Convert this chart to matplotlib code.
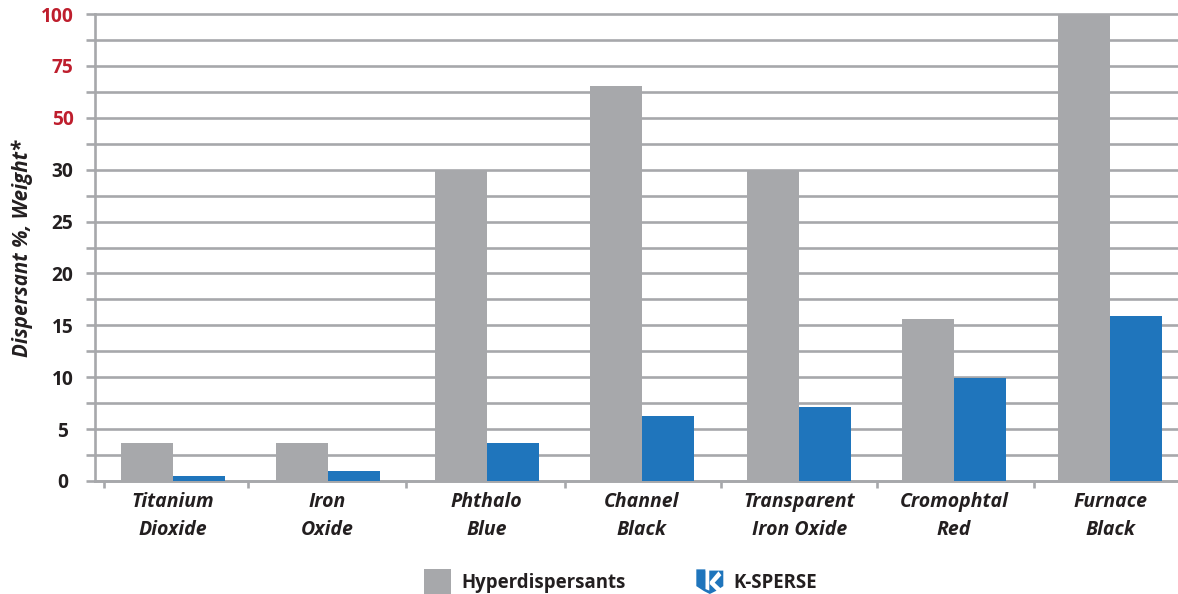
import numpy as np
import matplotlib
matplotlib.use("Agg")
import matplotlib.pyplot as plt
from matplotlib.patches import Patch, Polygon

pigmentos = ["Titanium\nDioxide", "Iron\nOxide", "Phthalo\nBlue", "Channel\nBlack",
             "Transparent\nIron Oxide", "Cromophtal\nRed", "Furnace\nBlack"]
hyper = [3.7, 3.7, 30, 65.3, 30, 15.6, 100]
ksperse = [0.5, 1, 3.7, 6.3, 7.1, 9.9, 15.9]
y_ticks = [0, 5, 10, 15, 20, 25, 30, 50, 75, 100]
y_minor = [2.5, 7.5, 12.5, 17.5, 22.5, 27.5, 40, 62.5, 87.5]
x_divisores = [-0.44, 0.48, 1.49, 2.51, 3.51, 4.51, 5.51]

CINZA = "#a7a8ab"
AZUL = "#1f75bc"
ESCURO = "#231f20"
VERMELHO = "#be1e2d"
FONTE = "Open Sans"

# o eixo y do original nao e linear: cada rotulo fica a mesma distancia do outro
posicoes = np.arange(len(y_ticks))


def para_tela(v):
    return np.interp(v, y_ticks, posicoes)


def de_tela(v):
    return np.interp(v, posicoes, y_ticks)


class LogoHandler:
    # logo K-SPERSE desenhado no lugar da amostra da legenda
    def legend_artist(self, legend, orig_handle, fontsize, handlebox):
        x0, y0 = -handlebox.xdescent, -handlebox.ydescent
        w, h = handlebox.width, handlebox.height

        def pts(lista):
            return [(x0 + a * w, y0 + (1 - b) * h) for a, b in lista]

        escudo = [(0, 0), (0.34, 0), (0.34, 0.05), (1, 0.05), (1, 0.68), (0.72, 0.88),
                  (0.5, 1), (0.28, 0.88), (0, 0.68)]
        haste = [(0.34, 0), (0.48, 0), (0.48, 0.86), (0.34, 0.8)]
        seta = [(0.5, 0.5), (0.82, 0.08), (0.93, 0.24), (0.68, 0.54), (0.93, 0.8),
                (0.78, 0.9), (0.5, 0.6)]
        artistas = [Polygon(pts(escudo), closed=True, facecolor=AZUL, edgecolor="none"),
                    Polygon(pts(haste), closed=True, facecolor="white", edgecolor="none"),
                    Polygon(pts(seta), closed=True, facecolor="white", edgecolor="none")]
        for art in artistas:
            handlebox.add_artist(art)
        return artistas[0]


fig = plt.figure(figsize=(11.78, 5.94), dpi=100)
ax = fig.add_axes([95 / 1178, (594 - 481) / 594, (1178 - 95) / 1178, 467 / 594])
ax.set_yscale("function", functions=(para_tela, de_tela))

# os grupos nao sao perfeitamente equidistantes no original
x = np.array([0, 0.989, 2.007, 3.0, 4.01, 5.0, 6.0])
largura = 0.333
ax.bar(x - largura / 2, hyper, largura, color=CINZA, zorder=3)
ax.bar(x + largura / 2, ksperse, largura, color=AZUL, zorder=3)

ax.set_xlim(-0.5, 6.435)
ax.set_ylim(0, 100)

ax.set_yticks(y_ticks)
ax.set_yticks(y_minor, minor=True)
ax.set_yticklabels([str(t) for t in y_ticks], fontsize=13.8, fontweight="bold", family=FONTE)
ax.grid(True, axis="y", which="both", color=CINZA, linewidth=1.9, zorder=1)
ax.tick_params(axis="y", which="both", color=CINZA, width=1.9, length=6.5, pad=9)
for linha in ax.yaxis.get_gridlines():
    linha.set_clip_on(False)
for tick, valor in zip(ax.yaxis.get_major_ticks(), y_ticks):
    if valor >= 50:
        tick.label1.set_color(VERMELHO)
    else:
        tick.label1.set_color(ESCURO)
    if valor < 10:
        tick.set_pad(13)

ax.set_xticks(x)
ax.set_xticklabels(pigmentos, fontsize=14, fontweight="bold", fontstyle="italic",
                   family=FONTE, color=ESCURO, linespacing=1.5)
ax.tick_params(axis="x", which="major", length=0, pad=8)
ax.set_xticks(x_divisores, minor=True)
ax.tick_params(axis="x", which="minor", color=CINZA, width=1.9, length=5)

for lado in ["top", "right"]:
    ax.spines[lado].set_visible(False)
for lado in ["left", "bottom"]:
    ax.spines[lado].set_color(CINZA)
    ax.spines[lado].set_linewidth(1.9)

fig.text(22 / 1178, 1 - 248 / 594, "Dispersant %, Weight*", rotation=90, ha="center", va="center",
         fontsize=14.8, fontweight="bold", fontstyle="italic", family=FONTE, color=ESCURO)

logo = Patch(facecolor=AZUL)
fig.legend([Patch(facecolor=CINZA, edgecolor="none"), logo], ["Hyperdispersants", "K-SPERSE"],
           handler_map={logo: LogoHandler()},
           loc="lower left", bbox_to_anchor=(424 / 1178, 0), ncols=2, frameon=False,
           borderpad=0, borderaxespad=0, handlelength=1.45, handleheight=1.66,
           handletextpad=0.55, columnspacing=3.8,
           prop={"family": FONTE, "weight": "bold", "size": 13.4}, labelcolor=ESCURO)

fig.savefig("out.png", dpi=100)
